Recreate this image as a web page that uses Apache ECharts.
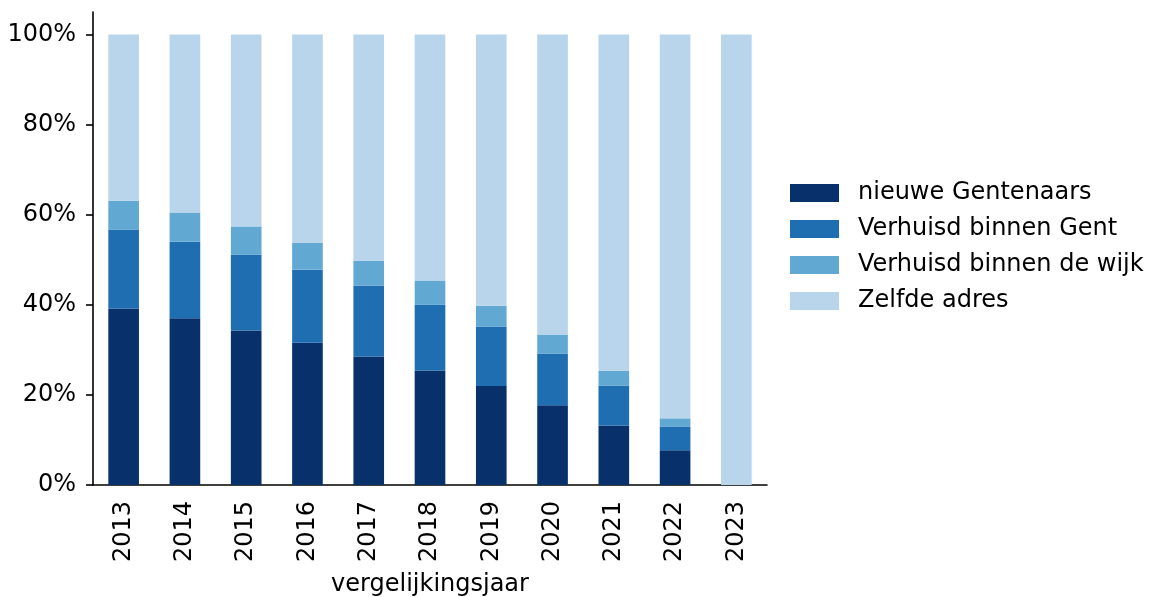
<!DOCTYPE html>
<html>
<head>
<meta charset="utf-8">
<script src="https://cdn.jsdelivr.net/npm/echarts@6/dist/echarts.min.js"></script>
<style>
  html, body { margin: 0; padding: 0; background: #fff; }
  #chart { width: 1151px; height: 597px; }
</style>
</head>
<body>
<div id="chart"></div>
<script>
// Share of residents per comparison year (percent, stacked to 100)
const years = ['2013', '2014', '2015', '2016', '2017', '2018', '2019', '2020', '2021', '2022', '2023'];
const nieuweGentenaars = [39.2, 37.0, 34.3, 31.6, 28.5, 25.4, 22.0, 17.7, 13.2, 7.7, 0];
const verhuisdGent = [17.5, 17.0, 16.8, 16.2, 15.8, 14.6, 13.2, 11.5, 8.9, 5.3, 0];
const verhuisdWijk = [6.4, 6.5, 6.3, 6.0, 5.5, 5.4, 4.6, 4.2, 3.3, 1.8, 0];
const zelfdeAdres = [36.9, 39.5, 42.6, 46.2, 50.2, 54.6, 60.2, 66.6, 74.6, 85.2, 100];
const yTicks = [0, 20, 40, 60, 80, 100];

const seriesNames = ['nieuwe Gentenaars', 'Verhuisd binnen Gent', 'Verhuisd binnen de wijk', 'Zelfde adres'];
const seriesData = [nieuweGentenaars, verhuisdGent, verhuisdWijk, zelfdeAdres];
const colors = ['#08306b', '#1f6eb2', '#61a8d3', '#b9d5eb'];

const font = 'DejaVu Sans';
const fs = 24;
const chart = echarts.init(document.getElementById('chart'), null, { renderer: 'canvas' });

chart.setOption({
  animation: false,
  backgroundColor: '#fff',
  color: colors,
  textStyle: { fontFamily: font },
  grid: { left: 93, right: 384, top: 12, bottom: 112, containLabel: false, outerBoundsMode: 'none' },
  legend: {
    orient: 'vertical',
    left: 790,
    top: 181,
    padding: 0,
    itemWidth: 49,
    itemHeight: 18,
    itemGap: 12,
    icon: 'rect',
    selectedMode: false,
    textStyle: { fontFamily: font, fontSize: fs, color: '#000', padding: [0, 0, 0, 14] },
    data: seriesNames
  },
  xAxis: {
    type: 'category',
    data: years,
    boundaryGap: true,
    name: 'vergelijkingsjaar',
    nameLocation: 'middle',
    nameGap: 88,
    nameTextStyle: { fontFamily: font, fontSize: fs, color: '#000' },
    axisLine: { lineStyle: { color: '#000', width: 1.6 } },
    axisTick: { alignWithLabel: true, length: 7, lineStyle: { color: '#000', width: 1.6 } },
    axisLabel: { rotate: 90, fontFamily: font, fontSize: fs, color: '#000', margin: 16, interval: 0 },
    splitLine: { show: false }
  },
  yAxis: {
    type: 'value',
    min: 0,
    max: 105,
    interval: 20,
    axisLine: { show: true, lineStyle: { color: '#000', width: 1.6 } },
    axisTick: { show: true, length: 7, customValues: yTicks, lineStyle: { color: '#000', width: 1.6 } },
    axisLabel: { fontFamily: font, fontSize: fs, color: '#000', margin: 17, customValues: yTicks, formatter: '{value}%' },
    splitLine: { show: false }
  },
  series: seriesNames.map((name, i) => ({
    name: name,
    type: 'bar',
    stack: 'total',
    barWidth: '50%',
    // zero shares are left out so no empty segment is drawn
    data: seriesData[i].map(v => (v === 0 ? '-' : v)),
    itemStyle: { color: colors[i] },
    emphasis: { disabled: true }
  }))
});
</script>
</body>
</html>
